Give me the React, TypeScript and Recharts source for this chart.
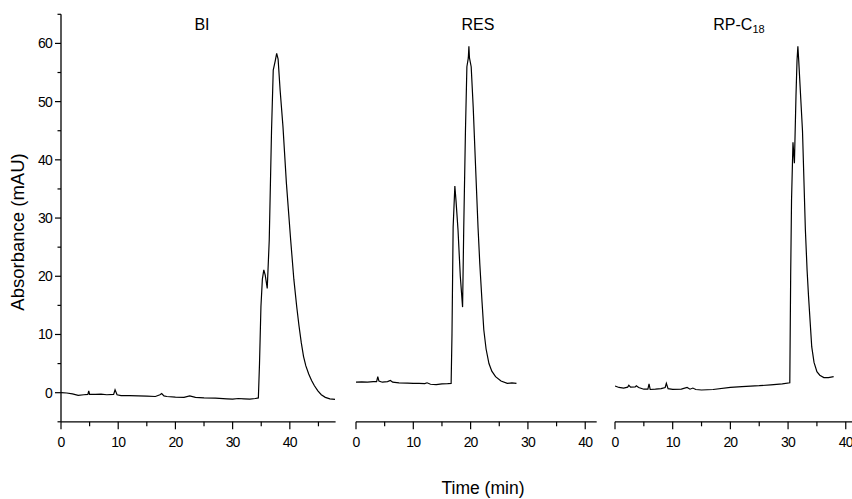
import React from 'react';
import { LineChart, Line, XAxis, YAxis } from 'recharts';

// ---- Data ----
const biTime = [0, 1, 2, 3, 4, 4.7, 4.85, 5.0, 6, 7, 8, 9.2, 9.45, 9.8, 10.5, 12, 13.5, 15, 16.5, 17.3, 17.6, 18, 18.5, 20, 21.5, 22.5, 23.5, 25, 27, 29, 30, 31, 32, 33, 34, 34.5, 34.7, 34.95, 35.2, 35.45, 35.7, 36.05, 36.4, 36.8, 37.1, 37.45, 37.7, 37.95, 38.3, 38.8, 39.4, 40.15, 40.7, 41.2, 41.6, 42.0, 42.4, 42.8, 43.3, 43.8, 44.3, 44.9, 45.5, 46.2, 47.0, 47.9];
const biAbs = [0, -0.05, -0.2, -0.45, -0.35, -0.3, 0.3, -0.3, -0.3, -0.25, -0.35, -0.3, 0.5, -0.35, -0.5, -0.5, -0.55, -0.6, -0.65, -0.35, -0.15, -0.55, -0.65, -0.75, -0.8, -0.55, -0.8, -0.9, -0.95, -1.05, -1.1, -1.0, -1.05, -1.1, -1.0, -0.9, 5, 14.8, 19.5, 21.1, 20.2, 17.9, 26.2, 45, 55.4, 57, 58.3, 57.3, 52, 45.7, 36, 26.2, 19.5, 14.8, 11.5, 8.6, 6.2, 4.6, 3.2, 2.1, 1.2, 0.3, -0.35, -0.8, -1.05, -1.15];

const resTime = [0, 1, 2, 3, 3.6, 3.8, 4.0, 4.6, 5.5, 6.0, 6.4, 7.5, 9, 10, 11, 12, 12.4, 13, 14, 15, 16, 16.6, 16.75, 16.95, 17.25, 17.45, 17.8, 18.2, 18.6, 18.8, 19.1, 19.35, 19.6, 19.7, 19.8, 20.1, 20.45, 20.9, 21.3, 21.6, 22.0, 22.3, 22.7, 23.2, 23.7, 24.35, 25.3, 26.4, 27.2, 28.0];
const resAbs = [1.8, 1.85, 1.8, 1.9, 1.9, 2.75, 2.0, 1.8, 1.9, 2.1, 1.8, 1.7, 1.65, 1.6, 1.6, 1.55, 1.7, 1.45, 1.4, 1.5, 1.55, 1.6, 10, 28.4, 35.5, 33, 28, 20, 14.7, 28.3, 45, 56, 57.5, 59.5, 57.5, 56, 49.1, 38, 28.3, 22.2, 15.5, 10.8, 7.5, 5.0, 3.7, 2.75, 2.0, 1.6, 1.7, 1.6];

const rpTime = [0, 0.7, 1.5, 2.2, 2.4, 2.7, 3.5, 3.7, 4.1, 5.0, 5.7, 5.9, 6.1, 7.0, 8.0, 8.7, 8.9, 9.2, 10, 11.5, 12.5, 13, 13.5, 14, 15, 17, 20, 22, 25, 27, 29, 30.3, 30.45, 30.6, 30.85, 31.1, 31.37, 31.55, 31.7, 31.85, 32.2, 32.5, 33.0, 33.3, 33.55, 34.1, 34.5, 35.0, 35.5, 36.2, 37.0, 37.9];
const rpAbs = [1.15, 0.9, 0.8, 0.95, 1.27, 0.95, 1.0, 1.2, 0.9, 0.6, 0.6, 1.5, 0.55, 0.6, 0.7, 0.9, 1.6, 0.7, 0.58, 0.6, 0.9, 0.6, 0.8, 0.55, 0.46, 0.55, 0.9, 1.05, 1.2, 1.35, 1.5, 1.7, 20, 33, 43, 39.4, 50.9, 57, 59.5, 57, 50.5, 45, 28, 21, 16.5, 7.9, 5.2, 3.6, 3.0, 2.6, 2.6, 2.75];

const panelTitles = ['BI', 'RES', 'RP-C'];
const rpSubscript = '18';
const xTicks = [0, 5, 10, 15, 20, 25, 30, 35, 40, 45];
const xTicksShort = [0, 5, 10, 15, 20, 25, 30, 35, 40];
const yTicks = [-5, 0, 5, 10, 15, 20, 25, 30, 35, 40, 45, 50, 55, 60, 65];
const yLabel = 'Absorbance (mAU)';
const xLabel = 'Time (min)';

const toRows = (t: number[], v: number[]) => t.map((tt, i) => ({ t: tt, v: v[i] }));
const biData = toRows(biTime, biAbs);
const resData = toRows(resTime, resAbs);
const rpData = toRows(rpTime, rpAbs);

const FONT = '"Liberation Sans", Arial, Helvetica, sans-serif';
const X_TS = 7;
const X_TM = 7;
const Y_TS = 6;
const Y_TM = 2;

const XTick = (props: any) => {
  const { x, y, payload } = props;
  const v = payload.value;
  const major = v % 10 === 0;
  const y0 = y - X_TS - X_TM;
  return (
    <g>
      <line x1={x} x2={x} y1={y0} y2={y0 + (major ? 7.5 : 4.5)} stroke="#000" strokeWidth={1.2} />
      {major && (
        <text x={x} y={y0 + 25} textAnchor="middle" fontSize={14} fontFamily={FONT} letterSpacing={-0.8} fill="#000">
          {v}
        </text>
      )}
    </g>
  );
};

const YTick = (props: any) => {
  const { x, y, payload } = props;
  const v = payload.value;
  const major = v % 10 === 0;
  const x0 = x + Y_TS + Y_TM;
  return (
    <g>
      <line x1={x0} x2={x0 - (major ? 6 : 3.5)} y1={y} y2={y} stroke="#000" strokeWidth={1.2} />
      {major && (
        <text x={x0 - 9} y={y + 5} textAnchor="end" fontSize={14} fontFamily={FONT} letterSpacing={-0.8} fill="#000">
          {v}
        </text>
      )}
    </g>
  );
};

const H = 499;
const TOP = 14.3;
const BOTTOM_PLOT = 421.8;
const XAXIS_H = 30;
const MB = H - BOTTOM_PLOT - XAXIS_H;

function Panel({ data, left, width, ml, mr, domainMax, ticks, showY }: any) {
  return (
    <div style={{ position: 'absolute', left, top: 0, width, height: H }}>
      <LineChart width={width} height={H} data={data} margin={{ top: TOP, right: mr, bottom: MB, left: ml }}>
        <XAxis
          type="number"
          dataKey="t"
          domain={[0, domainMax]}
          ticks={ticks}
          allowDataOverflow
          height={XAXIS_H}
          axisLine={{ stroke: '#000', strokeWidth: 1.3 }}
          tickLine={false}
          tickSize={X_TS}
          tickMargin={X_TM}
          tick={<XTick />}
          interval={0}
        />
        {showY ? (
          <YAxis
            type="number"
            domain={[-5, 65]}
            ticks={yTicks}
            allowDataOverflow
            width={40}
            axisLine={{ stroke: '#000', strokeWidth: 1.3 }}
            tickLine={false}
            tickSize={Y_TS}
            tickMargin={Y_TM}
            tick={<YTick />}
            interval={0}
          />
        ) : (
          <YAxis type="number" domain={[-5, 65]} allowDataOverflow hide />
        )}
        <Line
          type="linear"
          dataKey="v"
          dot={false}
          stroke="#000"
          strokeWidth={1.2}
          isAnimationActive={false}
        />
      </LineChart>
    </div>
  );
}

export default function App() {
  return (
    <div
      style={{
        position: 'absolute',
        left: 0,
        top: 0,
        width: 852,
        height: H,
        overflow: 'hidden',
        background: '#fff',
      }}
    >
      <Panel data={biData} left={0} width={340} ml={21} mr={4.4} domainMax={48} ticks={xTicks} showY />
      <Panel data={resData} left={345.5} width={255.7} ml={10} mr={5} domainMax={42} ticks={xTicksShort} showY={false} />
      <Panel data={rpData} left={604.7} width={257.3} ml={10} mr={5} domainMax={42} ticks={xTicksShort} showY={false} />
      <svg
        width={852}
        height={H}
        style={{ position: 'absolute', left: 0, top: 0, pointerEvents: 'none' }}
      >
        <text x={202} y={29.5} textAnchor="middle" fontSize={16} fontFamily={FONT} fill="#000">
          {panelTitles[0]}
        </text>
        <text x={478} y={29.5} textAnchor="middle" fontSize={16} fontFamily={FONT} fill="#000">
          {panelTitles[1]}
        </text>
        <text x={739} y={29.5} textAnchor="middle" fontSize={16} fontFamily={FONT} fill="#000">
          {panelTitles[2]}
          <tspan fontSize={11} dy={3}>{rpSubscript}</tspan>
        </text>
        <text x={483} y={494} textAnchor="middle" fontSize={17.5} fontFamily={FONT} fill="#000">
          {xLabel}
        </text>
        <text
          x={0}
          y={0}
          transform="translate(24, 232) rotate(-90)"
          textAnchor="middle"
          fontSize={18.5}
          fontFamily={FONT}
          fill="#000"
        >
          {yLabel}
        </text>
      </svg>
    </div>
  );
}
